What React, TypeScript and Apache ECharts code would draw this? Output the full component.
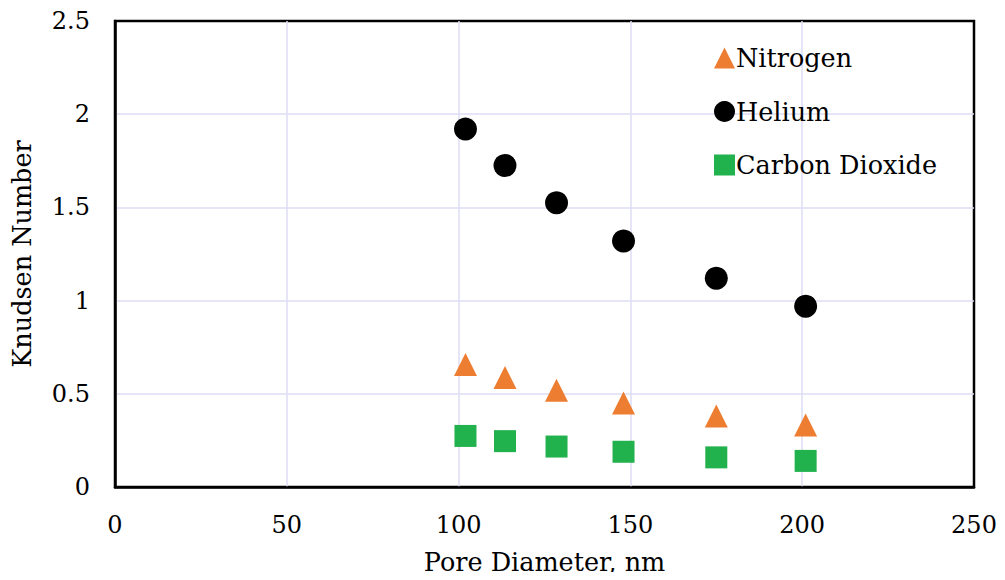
import React, { useEffect, useRef } from "react";
import * as echarts from "echarts";

const poreDiameter = [102, 113.5, 128.5, 148, 175, 201];
const nitrogen = [0.657, 0.588, 0.519, 0.451, 0.381, 0.333];
const helium = [1.92, 1.725, 1.525, 1.32, 1.12, 0.97];
const carbonDioxide = [0.274, 0.246, 0.217, 0.189, 0.159, 0.14];

const FONT = "DejaVu Serif";

export default function App() {
  const ref = useRef<HTMLDivElement>(null);
  useEffect(() => {
    if (!ref.current) return;
    const chart = echarts.init(ref.current, undefined, { renderer: "svg" });
    const pairs = (ys: number[]) => poreDiameter.map((x, i) => [x, ys[i]]);
    chart.setOption({
      animation: false,
      backgroundColor: "#ffffff",
      grid: {
        left: 115,
        right: 31,
        top: 21,
        bottom: 92,
        show: true,
        borderColor: "#000",
        borderWidth: 2.5,
      },
      legend: {
        orient: "vertical",
        left: 709,
        top: 40,
        itemWidth: 21,
        itemHeight: 21,
        itemGap: 27.5,
        textStyle: { fontFamily: FONT, fontSize: 25.5, lineHeight: 26, color: "#000", padding: [0, 0, 0, -4] },
        data: ["Nitrogen", "Helium", "Carbon Dioxide"],
      },
      xAxis: {
        type: "value",
        min: 0,
        max: 250,
        interval: 50,
        axisLine: { show: true, lineStyle: { color: "#000", width: 2.5 } },
        axisTick: { show: false },
        splitLine: { show: true, showMinLine: false, showMaxLine: false, lineStyle: { color: "#DDDDF5", width: 1.5 } },
        axisLabel: { margin: 26, fontFamily: FONT, fontSize: 24, color: "#000" },
        name: "Pore Diameter, nm",
        nameLocation: "middle",
        nameGap: 62,
        nameTextStyle: { fontFamily: FONT, fontSize: 25.5, color: "#000" },
      },
      yAxis: {
        type: "value",
        min: 0,
        max: 2.5,
        interval: 0.5,
        axisLine: { show: true, lineStyle: { color: "#000", width: 2.5 } },
        axisTick: { show: false },
        splitLine: { show: true, showMinLine: false, showMaxLine: false, lineStyle: { color: "#DDDDF5", width: 1.5 } },
        axisLabel: { margin: 25, fontFamily: FONT, fontSize: 24, color: "#000" },
        name: "Knudsen Number",
        nameLocation: "middle",
        nameGap: 80,
        nameTextStyle: { fontFamily: FONT, fontSize: 25.5, color: "#000" },
      },
      series: [
        {
          name: "Nitrogen",
          type: "scatter",
          symbol: "triangle",
          symbolSize: 23,
          itemStyle: { color: "#ED7D31", opacity: 1 },
          data: pairs(nitrogen),
        },
        {
          name: "Helium",
          type: "scatter",
          symbol: "circle",
          symbolSize: 23,
          itemStyle: { color: "#000000", opacity: 1 },
          data: pairs(helium),
        },
        {
          name: "Carbon Dioxide",
          type: "scatter",
          symbol: "rect",
          symbolSize: 22,
          itemStyle: { color: "#21B14D", opacity: 1 },
          data: pairs(carbonDioxide),
        },
      ],
    });
    return () => chart.dispose();
  }, []);
  return <div ref={ref} style={{ width: 1005, height: 580, margin: -8 }} />;
}
